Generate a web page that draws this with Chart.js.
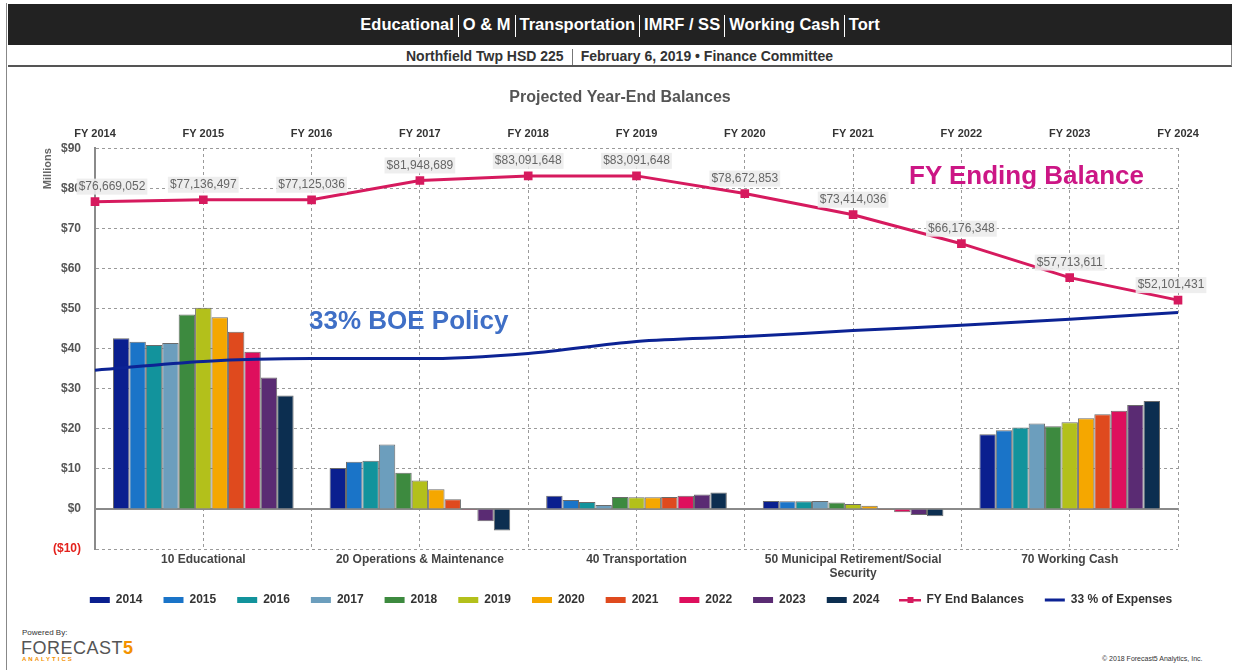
<!DOCTYPE html>
<html>
<head>
<meta charset="utf-8">
<script src="https://cdn.jsdelivr.net/npm/chart.js@4.4.1/dist/chart.umd.min.js"></script>
<style>
  body { margin: 0; background: #fff; font-family: "Liberation Sans", Arial, sans-serif; }
  .frame { position: absolute; left: 6px; top: 3px; width: 1227px; height: 667px; border-left: 1px solid #888; }
  .head { position: absolute; left: 8px; top: 4px; width: 1224px; height: 41px; background: #222; color: #fff;
          font-weight: bold; font-size: 16.5px; text-align: center; line-height: 41px; }
  .sub { position: absolute; left: 8px; top: 45px; width: 1223px; height: 20px; border-bottom: 2px solid #555; border-right: 1px solid #888;
         color: #333; font-weight: bold; font-size: 14px; text-align: center; line-height: 22px; }
  .sep { display: inline-block; width: 0; height: 22px; border-left: 1px solid #fff; margin: 0 4px 0 4px; vertical-align: middle; }
  .sub .sep { height: 16px; border-left-color: #777; margin: 0 8px 0 8px; }
  #wrap { position: absolute; left: 8px; top: 68px; width: 1224px; height: 560px; }
  .note { position: absolute; font-weight: bold; white-space: nowrap; font-size: 26px; }
  .powered { position: absolute; left: 22px; top: 628px; font-size: 8px; color: #333; }
  .logo { position: absolute; left: 21px; top: 638px; font-size: 18px; color: #555; letter-spacing: 0.5px; }
  .logo b { color: #f39200; }
  .analytics { position: absolute; left: 22px; top: 656px; font-size: 6px; font-weight: bold; color: #f39200; letter-spacing: 2px; }
  .copy { position: absolute; left: 1102px; top: 655px; font-size: 7px; color: #333; }
</style>
</head>
<body>
<div class="frame"></div>
<div class="head">Educational<span class="sep"></span>O &amp; M<span class="sep"></span>Transportation<span class="sep"></span>IMRF / SS<span class="sep"></span>Working Cash<span class="sep"></span>Tort</div>
<div class="sub">Northfield Twp HSD 225<span class="sep"></span>February 6, 2019 • Finance Committee</div>
<div id="wrap"><canvas id="balanceChart"></canvas></div>
<div class="note" style="left:909px; top:160px; color:#cc1685;">FY Ending Balance</div>
<div class="note" style="left:309px; top:305px; color:#3f6fc6;">33% BOE Policy</div>
<div class="powered">Powered By:</div>
<div class="logo">FORECAST<b>5</b></div>
<div class="analytics">ANALYTICS</div>
<div class="copy">© 2018 Forecast5 Analytics, Inc.</div>
<script>
// fund categories (bottom axis)
const funds = ['10 Educational', '20 Operations & Maintenance', '40 Transportation',
               ['50 Municipal Retirement/Social', 'Security'], '70 Working Cash'];
const years = ['2014', '2015', '2016', '2017', '2018', '2019', '2020', '2021', '2022', '2023', '2024'];
const fiscalYears = ['FY 2014', 'FY 2015', 'FY 2016', 'FY 2017', 'FY 2018', 'FY 2019',
                     'FY 2020', 'FY 2021', 'FY 2022', 'FY 2023', 'FY 2024'];

// fund balances in millions, one value per year 2014..2024
const educational    = [42.6, 41.7, 40.9, 41.4, 48.5, 50.2, 47.8, 44.2, 39.2, 32.8, 28.3];
const operations     = [10.2, 11.8, 12.0, 16.1, 9.0, 7.1, 4.9, 2.4, -0.3, -3.1, -5.4];
const transportation = [3.3, 2.2, 1.7, 1.0, 3.0, 2.9, 2.9, 3.0, 3.3, 3.6, 4.1];
const imrf           = [2.0, 1.9, 1.9, 2.0, 1.6, 1.2, 0.8, -0.3, -0.8, -1.5, -1.8];
const workingCash    = [18.6, 19.6, 20.3, 21.3, 20.6, 21.6, 22.6, 23.6, 24.5, 25.9, 26.9];

// FY ending balance (dollars) and 33% of expenses (millions)
const endBalances = [76669052, 77136497, 77125036, 81948689, 83091648, 83091648,
                     78672853, 73414036, 66176348, 57713611, 52101431];
const policyLine = [34.6, 36.8, 37.5, 37.5, 38.8, 41.8, 43.0, 44.5, 45.8, 47.3, 49.0];

const yearColors = ['#0a1f8f', '#1a74c8', '#12939c', '#6c9ebd', '#3d8a3f', '#b3c01b',
                    '#f5a700', '#df4a1e', '#de0f5d', '#5a2b73', '#0c2e50'];
const balanceColor = '#d61a5e';
const policyColor = '#0c2394';
const fundValues = [educational, operations, transportation, imrf, workingCash];

// each fiscal year sits on a fund-category edge or centre of the bottom axis
const fyOnFundAxis = (vals) => vals.map((v, i) => ({ x: (i - 1) / 2, y: v }));

const datasets = years.map((yr, i) => ({
    type: 'bar',
    label: yr,
    data: fundValues.map(f => f[i]),
    backgroundColor: yearColors[i],
    borderColor: '#6b6b6b',
    borderWidth: 1,
    barPercentage: 1.0,
    categoryPercentage: 0.834,
    order: 2
}));

datasets.push({
    type: 'line',
    label: 'FY End Balances',
    parsing: false,
    data: fyOnFundAxis(endBalances.map(v => v / 1e6)),
    borderColor: balanceColor,
    backgroundColor: balanceColor,
    borderWidth: 3,
    pointStyle: 'rect',
    pointRadius: 4,
    pointBackgroundColor: balanceColor,
    tension: 0,
    order: 0
});
datasets.push({
    type: 'line',
    label: '33 % of Expenses',
    parsing: false,
    data: fyOnFundAxis(policyLine),
    borderColor: policyColor,
    backgroundColor: policyColor,
    borderWidth: 3,
    pointRadius: 0,
    cubicInterpolationMode: 'monotone',
    order: 1
});

// legend symbol for the balance line: line with a square marker
const balanceSymbol = document.createElement('canvas');
balanceSymbol.width = 22;
balanceSymbol.height = 8;
(function () {
    const c = balanceSymbol.getContext('2d');
    c.fillStyle = balanceColor;
    c.fillRect(0, 3, 22, 2.5);
    c.fillRect(8, 1, 6, 6);
})();

// solid zero line across the plot
const zeroLine = {
    id: 'zeroLine',
    beforeDatasetsDraw(chart) {
        const y = chart.scales.y.getPixelForValue(0);
        const a = chart.chartArea;
        const ctx = chart.ctx;
        ctx.save();
        ctx.strokeStyle = '#8a8a8a';
        ctx.lineWidth = 2;
        ctx.beginPath();
        ctx.moveTo(a.left, y);
        ctx.lineTo(a.right, y);
        ctx.stroke();
        ctx.restore();
    }
};

// dollar labels above the FY End Balances points
const balanceLabels = {
    id: 'balanceLabels',
    afterDatasetsDraw(chart) {
        const idx = chart.data.datasets.findIndex(d => d.label === 'FY End Balances');
        const meta = chart.getDatasetMeta(idx);
        const ctx = chart.ctx;
        ctx.save();
        ctx.font = '12px "Liberation Sans", Arial, sans-serif';
        ctx.textAlign = 'center';
        ctx.textBaseline = 'middle';
        meta.data.forEach((pt, i) => {
            const text = '$' + endBalances[i].toLocaleString('en-US');
            const w = ctx.measureText(text).width + 4;
            let x = pt.x;
            if (i === 0) x += 17;
            if (i === meta.data.length - 1) x -= 7;
            const y = pt.y - 15;
            ctx.fillStyle = 'rgba(236,236,236,0.9)';
            ctx.fillRect(x - w / 2, y - 8, w, 16);
            ctx.fillStyle = '#666';
            ctx.fillText(text, x, y);
        });
        ctx.restore();
    }
};

// legend and title sit a little off the padded centre
const blockNudge = {
    id: 'blockNudge',
    afterLayout(chart) {
        const lg = chart.legend;
        lg.top -= 12; lg.bottom -= 12;
        lg.left += 38; lg.right += 38;
        const tb = chart.titleBlock;
        tb.left += 27; tb.right += 27;
    }
};

const ctx = document.getElementById('balanceChart').getContext('2d');
new Chart(ctx, {
    type: 'bar',
    data: { labels: funds, datasets: datasets },
    options: {
        responsive: true,
        maintainAspectRatio: false,
        animation: false,
        layout: { padding: { left: 0, right: 54, top: 0, bottom: 0 } },
        plugins: {
            title: {
                display: true,
                text: 'Projected Year-End Balances',
                color: '#555',
                font: { size: 16, weight: 'bold', family: '"Liberation Sans", Arial' },
                padding: { top: 20, bottom: 8 }
            },
            legend: {
                position: 'bottom',
                labels: {
                    usePointStyle: true,
                    pointStyleWidth: 20,
                    boxHeight: 6,
                    padding: 21,
                    color: '#333',
                    font: { size: 12, weight: 'bold', family: '"Liberation Sans", Arial' },
                    sort: (a, b) => a.datasetIndex - b.datasetIndex,
                    generateLabels(chart) {
                        const items = Chart.defaults.plugins.legend.labels.generateLabels(chart);
                        items.forEach(it => {
                            const ds = chart.data.datasets[it.datasetIndex];
                            if (ds.label === 'FY End Balances') {
                                it.pointStyle = balanceSymbol;
                            } else if (ds.type === 'line') {
                                it.pointStyle = 'line';
                                it.lineWidth = 3;
                                it.strokeStyle = ds.borderColor;
                            } else {
                                it.pointStyle = 'rect';
                                it.lineWidth = 0;
                            }
                        });
                        return items;
                    }
                }
            },
            tooltip: { enabled: false }
        },
        scales: {
            x: {
                grid: { display: false, drawTicks: false },
                border: { display: false },
                ticks: {
                    color: '#444',
                    padding: 4,
                    maxRotation: 0,
                    autoSkip: false,
                    font: { size: 12, weight: 'bold', lineHeight: 1.15, family: '"Liberation Sans", Arial' }
                },
                afterFit: s => { s.height = 36; }
            },
            x2: {
                type: 'category',
                labels: fiscalYears,
                position: 'top',
                offset: false,
                grid: { offset: false, color: '#9a9a9a', drawTicks: false },
                border: { display: false, dash: [3, 3] },
                ticks: {
                    color: '#333',
                    padding: 8,
                    maxRotation: 0,
                    autoSkip: false,
                    font: { size: 11, weight: 'bold', family: '"Liberation Sans", Arial' }
                },
                afterFit: s => { s.height = 33; }
            },
            y: {
                min: -10,
                max: 90,
                ticks: {
                    stepSize: 10,
                    padding: 14,
                    color: c => c.tick.value < 0 ? '#e3211c' : '#555',
                    font: { size: 12, weight: 'bold', family: '"Liberation Sans", Arial' },
                    callback: v => v < 0 ? '($' + (-v) + ')' : '$' + v
                },
                grid: { color: '#9a9a9a', drawTicks: false },
                border: { display: true, color: '#8a8a8a', width: 2, dash: [3, 3] },
                title: {
                    display: true,
                    text: 'Millions',
                    align: 'end',
                    color: '#666',
                    font: { size: 11, weight: 'bold', family: '"Liberation Sans", Arial' },
                    padding: { top: 33, bottom: 0 }
                },
                afterFit: s => { s.width = 87; }
            }
        }
    },
    plugins: [zeroLine, balanceLabels, blockNudge]
});
</script>
</body>
</html>
